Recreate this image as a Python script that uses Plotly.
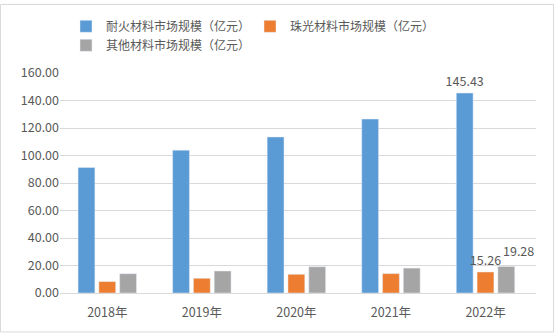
import plotly.graph_objects as go

categories = ["2018年", "2019年", "2020年", "2021年", "2022年"]
refractory = [91.3, 103.9, 113.5, 126.5, 145.43]
pearlescent = [8.3, 10.7, 13.6, 14.1, 15.26]
other = [14.0, 16.0, 19.1, 18.1, 19.28]
names = ["耐火材料市场规模（亿元）", "珠光材料市场规模（亿元）", "其他材料市场规模（亿元）"]
colors = ["#5B9BD5", "#ED7D31", "#A5A5A5"]

FONT = "Noto Sans CJK SC"
TXT = "#595959"

def last_only(vals):
    return ["" for _ in vals[:-1]] + [f"{vals[-1]:.2f}"]

fig = go.Figure()
fig.add_trace(go.Bar(x=categories, y=refractory, name=names[0], marker_color=colors[0],
                     text=last_only(refractory), textposition="outside", cliponaxis=False,
                     constraintext="none",
                     textfont=dict(size=12.5, color=TXT, family=FONT)))
fig.add_trace(go.Bar(x=categories, y=pearlescent, name=names[1], marker_color=colors[1],
                     text=last_only(pearlescent), textposition="outside", cliponaxis=False,
                     constraintext="none",
                     textfont=dict(size=12.5, color=TXT, family=FONT)))
fig.add_trace(go.Bar(x=categories, y=other, name=names[2], marker_color=colors[2]))

fig.add_annotation(x=categories[-1], y=other[-1], text=f"{other[-1]:.2f}", showarrow=False,
                   xshift=33, yshift=4, yanchor="bottom",
                   font=dict(size=12.5, color=TXT, family=FONT))

W, H = 554, 333
ml, mr, mt, mb = 60, 18, 70, 40
pw, ph = W - ml - mr, H - mt - mb

fig.add_shape(type="rect", xref="paper", yref="paper",
              x0=(0.5 - ml) / pw, x1=(W - 0.5 - ml) / pw,
              y0=-(mb - 0.5) / ph, y1=(H - 0.5 - mb) / ph,
              line=dict(color="#D9D9D9", width=1), layer="below")

fig.update_layout(
    width=W, height=H,
    margin=dict(l=ml, r=mr, t=mt, b=mb),
    paper_bgcolor="white", plot_bgcolor="white",
    barmode="group", bargap=0.34, bargroupgap=0.19,
    font=dict(family=FONT, size=12, color=TXT),
    legend=dict(orientation="h", x=(66 - ml) / pw, xanchor="left", y=(H - 8 - mb) / ph, yanchor="top",
                entrywidth=139, entrywidthmode="pixels", tracegroupgap=0,
                font=dict(size=12, color=TXT, family=FONT), bgcolor="rgba(0,0,0,0)"),
    xaxis=dict(showgrid=False, showline=True, linecolor="#D9D9D9", ticks="",
               tickfont=dict(size=12.5, color=TXT, family=FONT), ticklabelstandoff=8),
    yaxis=dict(range=[0, 160], dtick=20, tickformat=".2f", showgrid=True, gridcolor="#D9D9D9",
               zeroline=False, showline=False, ticks="",
               tickfont=dict(size=12.5, color=TXT, family=FONT)),
)

fig.write_html("out.html")
